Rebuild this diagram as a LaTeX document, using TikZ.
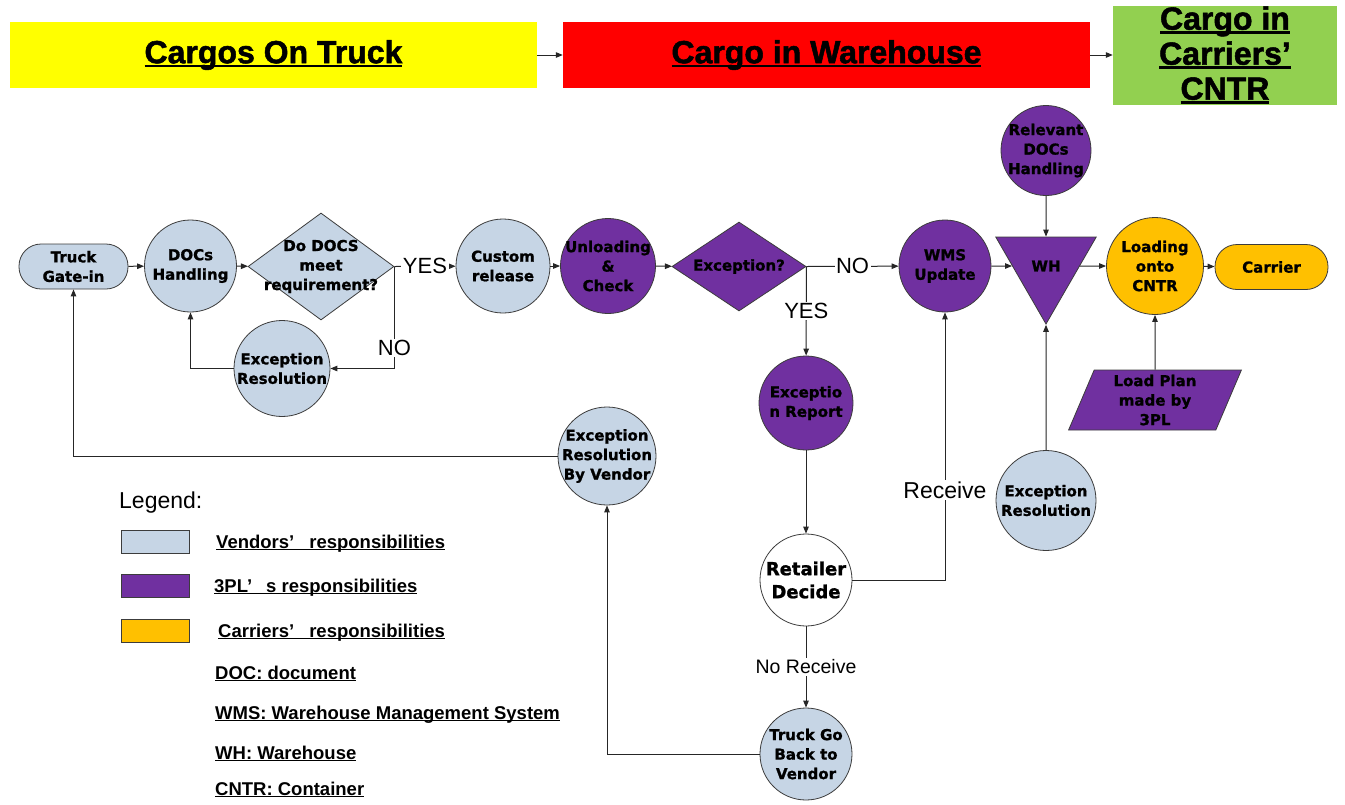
\documentclass[tikz,border=0pt]{standalone}
\usepackage{fontspec}
\setmainfont{Liberation Sans}
\newfontfamily\shapefont{DejaVu Sans}[BoldFeatures={FakeBold=1.2}]
\newfontfamily\bannerfont{Liberation Sans}[BoldFeatures={FakeBold=1.6}]
\usetikzlibrary{arrows.meta,shapes.geometric}

\definecolor{vendorblue}{RGB}{198,213,229}
\definecolor{plpurple}{RGB}{112,48,160}
\definecolor{carrorange}{RGB}{255,192,0}
\definecolor{bannyellow}{RGB}{255,255,0}
\definecolor{bannred}{RGB}{255,0,0}
\definecolor{banngreen}{RGB}{146,208,80}
\definecolor{edgegray}{RGB}{60,60,60}

% underline drawn a fixed distance below the baseline
\newcommand\myul[1]{\setbox0=\hbox{#1}\rlap{\rule[-0.12em]{\wd0}{0.07em}}\box0}
\newcommand\shapetext{\shapefont\bfseries\fontsize{15}{19.5}\selectfont}

\tikzset{
  line/.style={draw=black!85, line width=1pt},
  arrow/.style={line, -{Triangle[length=7pt,width=5.5pt]}},
  vendor/.style={fill=vendorblue, draw=edgegray, line width=0.8pt},
  threepl/.style={fill=plpurple, draw=edgegray, line width=0.8pt},
  carrier/.style={fill=carrorange, draw=edgegray, line width=0.8pt},
  stepcircle/.style={circle, inner sep=-20pt, align=center, font=\shapetext, minimum size=#1},
  stadium/.style={rectangle, rounded corners=22pt, minimum width=#1, minimum height=45pt, align=center, font=\shapetext},
  decision/.style={diamond, inner sep=-20pt, align=center, font=\shapetext},
  branch/.style={fill=white, inner sep=1.5pt, font=\fontsize{22}{25}\selectfont},
  banner/.style={inner sep=0pt, align=center, font=\bannerfont\bfseries\fontsize{32}{35}\selectfont},
  legendtext/.style={anchor=base west, inner sep=0pt, font=\bfseries\fontsize{18.5}{21}\selectfont},
  swatch/.style={minimum width=68pt, minimum height=23pt, inner sep=0pt},
}

\begin{document}
\begin{tikzpicture}[x=1pt, y=-1pt]
\fill[white] (0,0) rectangle (1345,804);
\useasboundingbox (0,0) rectangle (1345,804);

% stage banners
\node[banner, fill=bannyellow, minimum width=527pt, minimum height=66pt] (truckstage) at (273.5,55) {\myul{Cargos On Truck}};
\node[banner, fill=bannred, minimum width=527pt, minimum height=66pt] (whstage) at (826.5,55) {\myul{Cargo in Warehouse}};
\node[banner, fill=banngreen, minimum width=224pt, minimum height=99pt] (cntrstage) at (1225,55) {\myul{Cargo in}\\\myul{Carriers’}\\\myul{CNTR}};
\draw[arrow] (truckstage) -- (whstage);
\draw[arrow] (whstage) -- (cntrstage);

% main flow
\node[stadium=109pt, vendor] (truck) at (73.5,266.5) {Truck\\Gate-in};
\node[stepcircle=92pt, vendor] (docs) at (190.5,266) {DOCs\\Handling};
\node[decision, vendor, minimum width=146pt, minimum height=107pt] (docsok) at (321,266.5) {Do DOCS\\meet\\requirement?};
\node[stepcircle=96pt, vendor] (exlocal) at (282,368.5) {Exception\\Resolution};
\node[stepcircle=94pt, vendor] (custom) at (503,266) {Custom\\release};
\node[stepcircle=95pt, threepl] (unload) at (608,266) {Unloading\\\&\\Check};
\node[decision, threepl, minimum width=134pt, minimum height=89pt] (exq) at (739,266.5) {Exception?};
\node[stepcircle=92pt, threepl] (wms) at (945,266) {WMS\\Update};
\node[regular polygon, regular polygon sides=3, shape border rotate=180, minimum size=116pt, inner sep=0pt, threepl, font=\shapetext] (wh) at (1046,266) {WH};
\node[stepcircle=90pt, threepl] (reldocs) at (1046,150.5) {Relevant\\DOCs\\Handling};
\node[stepcircle=97pt, carrier] (loading) at (1155,266) {Loading\\onto\\CNTR};
\node[stadium=113pt, carrier] (carrier) at (1271.5,267) {Carrier};
\node[trapezium, trapezium left angle=71, trapezium right angle=109, trapezium stretches, minimum width=173pt, minimum height=60pt, inner sep=0pt, threepl, align=center, font=\shapetext] (loadplan) at (1155,400) {Load Plan\\made by\\3PL};
\node[stepcircle=100pt, vendor] (exwh) at (1046,500.5) {Exception\\Resolution};

% exception branch
\node[stepcircle=94pt, threepl] (exrep) at (806,403) {Exceptio\\n Report};
\node[stepcircle=92pt, fill=white, draw=edgegray, line width=0.8pt, font=\shapefont\bfseries\fontsize{18}{23}\selectfont] (retailer) at (806,580) {Retailer\\Decide};
\node[stepcircle=92pt, vendor] (goback) at (806,754) {Truck Go\\Back to\\Vendor};
\node[stepcircle=98pt, vendor] (exvendor) at (607,456) {Exception\\Resolution\\By Vendor};

% connectors
\draw[arrow] (truck) -- (docs);
\draw[arrow] (docs) -- (docsok);
\draw[arrow] (docsok.east) -- node[branch]{YES} (custom);
\draw[arrow] (docsok.east) |- node[branch, pos=0.4]{NO} (exlocal.east);
\draw[arrow] (exlocal.west) -| (docs.south);
\draw[arrow] (custom) -- (unload);
\draw[arrow] (unload) -- (exq);
\draw[arrow] (exq.east) -- node[branch]{NO} (wms);
\draw[arrow] (exq.east) -- node[branch]{YES} (exrep);
\draw[arrow] (exrep) -- (retailer);
\draw[arrow] (retailer.east) -| node[branch, pos=0.668, font=\fontsize{23}{26}\selectfont]{Receive} (wms.south);
\draw[arrow] (retailer) -- node[branch, font=\fontsize{19.5}{22}\selectfont]{No Receive} (goback);
\draw[arrow] (goback.west) -| (exvendor.south);
\draw[arrow] (exvendor.west) -| (truck.south);
\draw[arrow] (wms) -- (wh);
\draw[arrow] (reldocs) -- (wh);
\draw[arrow] (wh) -- (loading);
\draw[arrow] (loading) -- (carrier);
\draw[arrow] (loadplan) -- (loading);
\draw[arrow] (exwh) -- (wh);

% legend
\node[anchor=base west, inner sep=0pt, font=\fontsize{23}{26}\selectfont] (legendtitle) at (119,508) {Legend:};
\node[swatch, vendor] (swvend) at (155,541.5) {};
\node[swatch, threepl] (swpl) at (155,586) {};
\node[swatch, carrier] (swcarr) at (155,630.5) {};
\node[legendtext] (lvend) at (216,548) {\myul{Vendors’\hspace{15pt}responsibilities}};
\node[legendtext] (lpl) at (214,592) {\myul{3PL’\hspace{14pt}s responsibilities}};
\node[legendtext] (lcarr) at (218,637) {\myul{Carriers’\hspace{15pt}responsibilities}};
\node[legendtext] (ldoc) at (215,679) {\myul{DOC: document}};
\node[legendtext] (lwms) at (215,719) {\myul{WMS: Warehouse Management System}};
\node[legendtext] (lwh) at (215,759) {\myul{WH: Warehouse}};
\node[legendtext] (lcntr) at (215,795) {\myul{CNTR: Container}};
\end{tikzpicture}
\end{document}
